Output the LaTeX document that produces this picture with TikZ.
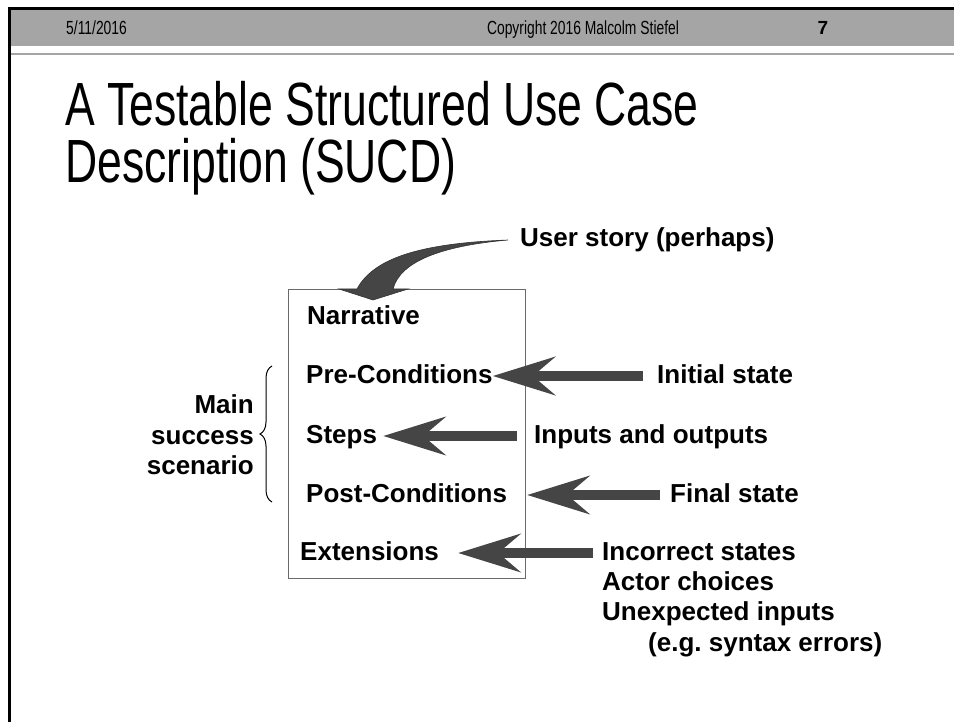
\documentclass[tikz,border=0pt]{standalone}
\usepackage{fontspec}
\setmainfont{Liberation Sans}
\newfontfamily\narrowfont[FakeStretch=0.73]{Liberation Sans}
\usetikzlibrary{positioning, arrows.meta, decorations.pathreplacing}
\definecolor{headgray}{HTML}{A5A5A5}
\definecolor{arrowgray}{HTML}{454545}
\definecolor{boxgray}{HTML}{6A6A6A}

\tikzset{
  header/.style={anchor=base, inner sep=0pt, font=\narrowfont\fontsize{19}{22}\selectfont},
  titletext/.style={anchor=base west, inner sep=0pt, font=\narrowfont\fontsize{61}{66}\selectfont},
  item/.style={anchor=west, inner sep=0pt, text height=19pt, text depth=5pt, font=\bfseries\fontsize{26}{30}\selectfont},
  note/.style={anchor=west, inner sep=0pt, text height=19pt, text depth=5pt, font=\bfseries\fontsize{26}{30}\selectfont},
  fatarrow/.style={arrowgray, line width=10pt, -{Stealth[length=62pt, width=38pt, inset=22pt]}}
}

\begin{document}
\begin{tikzpicture}[x=1pt, y=-1pt]
\useasboundingbox (0,0) rectangle (954,722);

% slide header
\fill[headgray] (10,10) rectangle (954,46);
\draw[headgray, line width=1.5pt] (10,54) -- (954,54);
\draw[line width=3pt] (954,8.5) -- (9.5,8.5) -- (9.5,722);
\node (date) [header, anchor=base west] at (66,35) {5/11/2016};
\node (copy) [header] at (583,35) {Copyright 2016 Malcolm Stiefel};
\node (page) [header, font=\bfseries\fontsize{19}{22}\selectfont] at (823,35) {7};

% title
\node (title1) [titletext, text height=45pt, text depth=1pt] at (65,126) {A Testable Structured Use Case};
\node (title2) [titletext, text height=45pt, text depth=1pt] at (65,183) {Description (SUCD)};

% the SUCD box
\node (box) [draw=boxgray, line width=1pt, minimum width=237pt, minimum height=288pt, inner sep=0pt] at (406.5,434) {};
\node (narr) [item] at (307,318) {Narrative};
\node (pre) [item] at (306,376) {Pre-Conditions};
\node (steps) [item] at (306,436) {Steps};
\node (post) [item] at (306,495) {Post-Conditions};
\node (ext) [item] at (300,553) {Extensions};

% notes on the right
\node (story) [note] at (520,240) {User story (perhaps)};
\node (initial) [note] at (657,376) {Initial state};
\node (inout) [note] at (534,436) {Inputs and outputs};
\node (final) [note] at (670,495) {Final state};
\node (incorrect) [note] at (602,553) {Incorrect states};
\node (actor) [note, below=6pt of incorrect.south west, anchor=north west] {Actor choices};
\node (unexpected) [note, below=6pt of actor.south west, anchor=north west] {Unexpected inputs};
\node (syntax) [note, below=6pt of unexpected.south west, anchor=north west, xshift=46pt] {(e.g.\ syntax errors)};

% main success scenario
\node (main) [anchor=east, align=right, inner sep=0pt, font=\bfseries\fontsize{26}{30.5}\selectfont] at (254,435) {Main\\success\\scenario};
\draw[decorate, decoration={brace, amplitude=12pt}, line width=1pt] (272,502) -- (272,366);

% curved arrow
\coordinate (storytip) at (373,300);
\filldraw[fill=arrowgray, draw=black!80, line width=0.6pt] ([xshift=-12pt]story.west) .. controls (430,243) and (375,255) .. (357,289) -- (339,289) -- (storytip) -- (408,289) -- (393,289) .. controls (400,262) and (440,246) .. ([xshift=-12pt]story.west) -- cycle;

% block arrows
\draw[fatarrow, shorten <=14pt] (initial.west) -- (pre.east);
\draw[fatarrow, shorten <=17pt] (inout.west) -- ([xshift=6pt]steps.east);
\draw[fatarrow, shorten <=10pt] (final.west) -- ([xshift=20pt]post.east);
\draw[fatarrow, shorten <=9pt] (incorrect.west) -- ([xshift=19pt]ext.east);

\end{tikzpicture}
\end{document}
